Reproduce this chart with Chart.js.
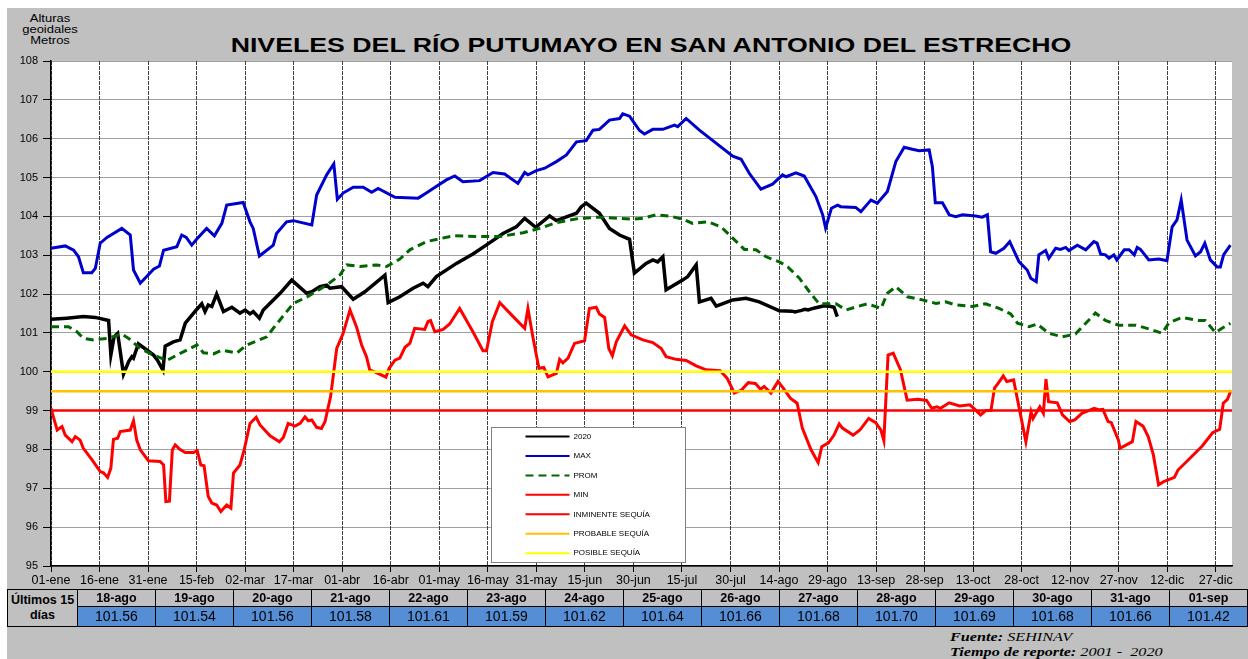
<!DOCTYPE html>
<html lang="es">

<head>
    <meta charset="UTF-8">
    <title>Niveles del río Putumayo en San Antonio del Estrecho</title>
    <script src="https://cdn.jsdelivr.net/npm/chart.js"></script>
    <style>
        body { margin: 0; background: #fff; overflow: hidden; font-family: "Liberation Sans", Arial, sans-serif; }
        #panel { position: absolute; left: 7px; top: 8px; width: 1241px; height: 651px; background: #c0c0c0; }
        #ylab { position: absolute; left: 0; top: 13px; width: 100px; text-align: center; font-size: 10px; line-height: 11px; transform: scaleX(1.3); transform-origin: 50px 0; }
        #title { position: absolute; left: 0; width: 1302px; top: 34px; text-align: center; font-size: 20px; font-weight: bold; line-height: 23px; transform: scaleX(1.335); transform-origin: 651px 0; }
        #wrap { position: absolute; left: 0; top: 0; width: 1248px; height: 600px; }
        #tbl { position: absolute; left: 7px; top: 589px; border-collapse: collapse; table-layout: fixed; }
        #tbl td { border: 1.5px solid #000; text-align: center; padding: 0; overflow: hidden; white-space: nowrap; }
        #tbl .hd { background: #c0c0c0; font-weight: bold; font-size: 12.5px; height: 16px; line-height: 16px; }
        #tbl .val { background: #558ed5; font-size: 14px; height: 19px; line-height: 19px; }
        #tbl .lbl { background: #c0c0c0; font-weight: bold; font-size: 12.5px; line-height: 15px; }
        #foot { position: absolute; left: 950px; top: 630px; font-family: "Liberation Serif", "Times New Roman", serif; font-style: italic; font-size: 12px; line-height: 14.5px; transform: scaleX(1.35); transform-origin: 0 0; white-space: nowrap; }
    </style>
</head>

<body>
    <div id="panel"></div>
    <div id="ylab">Alturas<br>geoidales<br>Metros</div>
    <div id="title">NIVELES DEL RÍO PUTUMAYO EN SAN ANTONIO DEL ESTRECHO</div>
    <div id="wrap"><canvas id="chart"></canvas></div>
    <table id="tbl"><tbody id="tbody"></tbody></table>
    <div id="foot"><b>Fuente:</b> SEHINAV<br><b>Tiempo de reporte:</b> 2001 -&nbsp; 2020</div>

    <script>
        // ejes
        const tickDays = [0, 15, 30, 45, 60, 75, 90, 105, 120, 135, 150, 165, 180, 195, 210, 225, 240, 255, 270, 285, 300, 315, 330, 345, 360];
        const tickLabels = ['01-ene', '16-ene', '31-ene', '15-feb', '02-mar', '17-mar', '01-abr', '16-abr', '01-may', '16-may', '31-may', '15-jun', '30-jun', '15-jul', '30-jul', '14-ago', '29-ago', '13-sep', '28-sep', '13-oct', '28-oct', '12-nov', '27-nov', '12-dic', '27-dic'];

        // umbrales
        const inminente = 99.0;
        const probable = 99.5;
        const posible = 100.0;

        // 2020 (día del año, nivel)
        const days2020 = [0, 4.9, 10, 13.7, 17.8, 18.5, 19.5, 20.6, 22.4, 24, 25, 25.5, 27, 29.6, 31.7, 32.9, 34.6, 35.3, 37.8, 39.9, 41.5, 45.1, 46.6, 47.6, 48.6, 49.7, 51.2, 53.3, 55.9, 58.4, 60, 61.5, 62.5, 64.4, 65.6, 70.8, 74.4, 79, 80.6, 83.1, 85.2, 86.2, 89.8, 93.4, 97, 103.2, 104.2, 107.8, 111.9, 115, 116.5, 119.1, 125.3, 130.4, 134.5, 139.7, 143.8, 146.4, 149.8, 154.1, 156.2, 159.3, 162.4, 163.9, 165.4, 169.5, 172.6, 175.7, 178.8, 180.3, 183.9, 186, 187.5, 189.1, 190.1, 195.2, 196.8, 199.4, 200.4, 204, 205.6, 210.7, 214.8, 218.9, 225.1,
            229, 230, 231, 232, 233, 234, 235, 236, 237, 238, 239, 240, 241, 242, 243];
        const vals2020 = [101.35, 101.38, 101.42, 101.4, 101.32, 100.43, 100.9, 100.99, 99.94, 100.26, 100.39, 100.35, 100.72, 100.56, 100.43, 100.3, 100.04, 100.66, 100.77, 100.82, 101.25, 101.61, 101.75, 101.55, 101.72, 101.68, 102.0, 101.55, 101.66, 101.51, 101.59, 101.49, 101.55, 101.38, 101.59, 102.02, 102.36, 102.02, 102.06, 102.19, 102.23, 102.15, 102.19, 101.87, 102.06, 102.49, 101.78, 101.93, 102.15, 102.28, 102.19, 102.45, 102.79, 103.03, 103.26, 103.56, 103.73, 103.95, 103.72, 104.01, 103.89, 103.99, 104.08, 104.25, 104.34, 104.08, 103.69, 103.52, 103.41, 102.54, 102.79, 102.88, 102.83, 102.96, 102.11, 102.36, 102.45, 102.75, 101.8, 101.89, 101.69, 101.85, 101.89, 101.8, 101.57,
            101.56, 101.54, 101.56, 101.58, 101.61, 101.59, 101.62, 101.64, 101.66, 101.68, 101.70, 101.69, 101.68, 101.66, 101.42];

        // MAX
        const daysMax = [0, 4.4, 7, 8.5, 10, 12.6, 13.7, 15.2, 17.3, 21.9, 24.5, 25.5, 27.6, 31.7, 33.5, 34.8, 38.9, 40.4, 41.8, 43.5, 45, 48.1, 50.5, 52.8, 54.3, 59.4, 61.5, 62.5, 64.4, 68.7, 69.7, 72.8, 74.9, 80.6, 82.1, 85.2, 87.4, 88.5, 90.3, 93.4, 96.5, 99.1, 101.1, 106.3, 113.5, 116, 118.1, 122.2, 124.8, 127.3, 132.5, 136.6, 140.2, 144.3, 146.4, 147.4, 150, 152.6, 156.2, 159.3, 162.4, 165.4, 167.5, 169.5, 172.6, 175.7, 176.7, 178.8, 180.3, 181.9, 183.4, 186, 189.1, 192.7, 193.7, 196.3, 200.4, 210.7, 213.3, 215.8, 219.4, 223, 226.1, 227.2, 230.2, 232.8, 236.4, 238.5, 239.4, 241.2, 243.1, 244.1, 248.7, 250.3, 253.4, 255.4, 258.5, 261.1, 263.7, 266.2, 268.3, 271.4, 272.4, 273.3, 275.5, 277.6, 279.6, 281.7, 285.8, 287.8, 289.4, 290.4, 292, 294.5, 296.3, 299.2, 301.7, 302.8, 304.5, 305.3, 307.4, 308.4, 310.5, 312, 313.6, 314.6, 317.2, 319.8, 322.3, 323.3, 324.4, 325.9, 327, 328.5, 329.4, 331.7, 333.2, 334.8, 335.7, 336.7, 339.3, 342.4, 344.9, 346.5, 348, 349.3, 351.1, 353.7, 355.3, 356.6, 358.3, 360.4, 361.4, 362.4, 364.5];
        const valsMax = [103.18, 103.24, 103.13, 102.96, 102.55, 102.55, 102.66, 103.31, 103.46, 103.69, 103.52, 102.62, 102.28, 102.64, 102.72, 103.13, 103.22, 103.52, 103.46, 103.26, 103.41, 103.69, 103.5, 103.82, 104.29, 104.36, 103.86, 103.69, 102.98, 103.26, 103.56, 103.86, 103.89, 103.78, 104.55, 105.07, 105.35, 104.44, 104.6, 104.75, 104.75, 104.62, 104.72, 104.49, 104.47, 104.6, 104.72, 104.94, 105.04, 104.89, 104.92, 105.13, 105.09, 104.85, 105.13, 105.07, 105.18, 105.24, 105.41, 105.58, 105.92, 105.95, 106.22, 106.24, 106.48, 106.52, 106.64, 106.58, 106.4, 106.21, 106.12, 106.24, 106.24, 106.35, 106.31, 106.52, 106.22, 105.55, 105.47, 105.11, 104.7, 104.83, 105.07, 105.02, 105.12, 105.04, 104.51, 104.04, 103.7, 104.21, 104.29, 104.25, 104.23, 104.12, 104.42, 104.34, 104.64, 105.41, 105.78, 105.73, 105.69, 105.71, 105.28, 104.35, 104.35, 104.04, 103.99, 104.04, 104.01, 103.98, 104.04, 103.09, 103.05, 103.18, 103.35, 102.83, 102.62, 102.41, 102.32, 103.01, 103.12, 102.92, 103.18, 103.15, 103.2, 103.12, 103.26, 103.14, 103.35, 103.31, 103.03, 103.01, 102.92, 103.01, 102.88, 103.14, 103.14, 103.01, 103.2, 103.15, 102.88, 102.9, 102.86, 103.73, 103.91, 104.42, 103.39, 102.98, 103.09, 103.31, 102.88, 102.7, 102.7, 103.01, 103.26];

        // PROM
        const daysProm = [0, 5.4, 8, 10, 13.1, 17.3, 21.9, 24, 27.6, 31.7, 35.8, 38.9, 45.1, 47.1, 50.2, 52.8, 57.4, 60.5, 66.7, 68.7, 74.9, 79, 85.2, 89.3, 91.4, 95.5, 100.6, 103.7, 107.8, 110.9, 116, 124.3, 132.5, 138.7, 145.9, 151, 156.2, 163.4, 169.5, 179.8, 182.9, 187, 191.1, 195.2, 198.3, 203, 207.1, 210.7, 214.3, 217.9, 221, 225.1, 227.7, 231.3, 234.4, 237.4, 242.6, 245.7, 249.3, 252.4, 256.5, 258.5, 261.1, 264.7, 269.3, 273.5, 276.5, 279.6, 284.8, 288.9, 293, 296.6, 298.7, 302.3, 304.8, 308.4, 312.5, 316.6, 319.8, 322.8, 325.9, 330, 335.2, 340.3, 343.4, 345.5, 349.6, 354.7, 356.7, 359.9, 361.9, 364.5];
        const valsProm = [101.16, 101.16, 101.03, 100.86, 100.82, 100.86, 100.97, 100.86, 100.6, 100.43, 100.29, 100.43, 100.69, 100.49, 100.46, 100.56, 100.48, 100.69, 100.9, 101.12, 101.76, 101.92, 102.23, 102.49, 102.75, 102.71, 102.75, 102.71, 102.9, 103.14, 103.35, 103.5, 103.48, 103.48, 103.58, 103.69, 103.84, 103.95, 103.98, 103.93, 103.95, 104.04, 104.01, 103.93, 103.82, 103.86, 103.73, 103.44, 103.15, 103.14, 102.96, 102.83, 102.7, 102.41, 102.06, 101.75, 101.75, 101.59, 101.68, 101.75, 101.63, 102.02, 102.19, 101.93, 101.85, 101.76, 101.8, 101.72, 101.68, 101.75, 101.63, 101.49, 101.25, 101.16, 101.23, 100.99, 100.9, 100.97, 101.25, 101.51, 101.32, 101.2, 101.2, 101.08, 100.99, 101.26, 101.4, 101.32, 101.32, 101.01, 101.12, 101.25];

        // MIN
        const daysMin = [0, 1.9, 3.4, 4.4, 6.5, 7.5, 9, 10, 12.7, 15.2, 16.2, 17.5, 18.5, 19.3, 20.6, 21.4, 24.5, 25.5, 26.5, 27.6, 30.1, 33.7, 34.8, 35.5, 36.6, 37.5, 38.4, 39.9, 41.5, 44, 45.2, 46.3, 47.3, 48.6, 49.7, 51.2, 52.5, 54.3, 55.6, 56.4, 58.4, 59.7, 61.5, 63.4, 64.6, 67.7, 70.6, 71.8, 73.3, 75.4, 77, 78.5, 79.5, 80.6, 82.1, 83.6, 84.7, 86.4, 87.2, 88.3, 90.3, 92.4, 94.4, 96, 97.5, 98.5, 100.6, 103.5, 104.5, 106.3, 107.8, 109.4, 110.9, 112.4, 115.5, 116.5, 117.3, 118.6, 121.2, 123.2, 126.3, 130.4, 133.5, 134.6, 136.4, 138.7, 143.3, 146.4, 147.4, 149, 150.8, 152.3, 153.6, 156.2, 157.2, 158.2, 159.8, 161.8, 164.9, 166.4, 168.5, 169.5, 171.1, 172.4, 173.5, 174.7, 177.3, 179.3, 182.9, 186, 188.6, 190.1, 193.2, 196.3, 199.4, 202.5, 206.8, 209, 211.2, 213.4, 215.5, 217.7, 219.3, 220.4, 222.5, 224.7, 226.3, 228.5, 230.6, 232.2, 234.9, 237.1, 238.2, 240.3, 242, 243.6, 244.6, 247.9, 250, 252.7, 254.9, 256.5, 257.4, 258.7, 260.3, 262.5, 264.6, 267.9, 270.6, 272.2, 273.8, 274.9, 277.6, 280.8, 284, 285.7, 287.3, 288.9, 290.5, 291.6, 292.7, 294.3, 295.4, 297.5, 301.3, 302.9, 303.5, 305.6, 306.7, 307.5, 308.3, 311, 312.6, 314.8, 316.4, 318.6, 320.7, 322.4, 324, 325.1, 326.7, 327.7, 329.9, 330.4, 334.2, 335.3, 337.5, 339.1, 340.7, 342.3, 343.9, 347.2, 348.3, 351, 355.8, 359, 361.2, 362.3, 363.6, 364.7];
        const valsMin = [99.06, 98.5, 98.59, 98.37, 98.2, 98.33, 98.24, 98.03, 97.73, 97.43, 97.4, 97.28, 97.52, 98.26, 98.29, 98.46, 98.5, 98.74, 98.24, 97.99, 97.71, 97.69, 97.6, 96.66, 96.67, 97.99, 98.12, 98.0, 97.92, 97.92, 97.97, 97.6, 97.58, 96.79, 96.62, 96.57, 96.4, 96.57, 96.49, 97.39, 97.6, 97.99, 98.67, 98.83, 98.63, 98.35, 98.2, 98.31, 98.67, 98.6, 98.67, 98.84, 98.74, 98.76, 98.57, 98.54, 98.72, 99.36, 99.87, 100.6, 100.99, 101.59, 101.16, 100.69, 100.39, 100.05, 99.98, 99.86, 100.09, 100.3, 100.35, 100.63, 100.73, 101.12, 101.09, 101.29, 101.32, 101.03, 101.09, 101.23, 101.63, 101.03, 100.54, 100.54, 101.29, 101.78, 101.38, 101.12, 101.63, 100.86, 100.09, 100.11, 99.87, 99.96, 100.32, 100.23, 100.35, 100.73, 100.8, 101.63, 101.66, 101.49, 101.4, 100.6, 100.41, 100.77, 101.18, 100.95, 100.82, 100.75, 100.6, 100.39, 100.32, 100.29, 100.15, 100.05, 100.03, 99.83, 99.45, 99.53, 99.72, 99.7, 99.55, 99.62, 99.45, 99.75, 99.58, 99.32, 99.19, 98.55, 97.99, 97.66, 98.07, 98.17, 98.37, 98.66, 98.55, 98.37, 98.5, 98.8, 98.69, 98.5, 98.23, 100.43, 100.48, 100.06, 99.27, 99.29, 99.26, 99.06, 99.1, 99.06, 99.2, 99.12, 99.15, 99.02, 98.89, 99.0, 99.0, 99.58, 99.7, 99.89, 99.75, 99.79, 98.2, 98.97, 98.8, 99.1, 98.93, 99.81, 99.23, 99.2, 98.89, 98.72, 98.76, 98.93, 99.0, 99.06, 99.02, 99.03, 98.72, 98.69, 98.24, 98.03, 98.2, 98.72, 98.6, 98.33, 97.86, 97.09, 97.17, 97.28, 97.47, 97.69, 98.09, 98.43, 98.52, 99.19, 99.29, 99.53];

        // tabla últimos 15 días
        const lastDates = ['18-ago', '19-ago', '20-ago', '21-ago', '22-ago', '23-ago', '24-ago', '25-ago', '26-ago', '27-ago', '28-ago', '29-ago', '30-ago', '31-ago', '01-sep'];
        const lastVals = [101.56, 101.54, 101.56, 101.58, 101.61, 101.59, 101.62, 101.64, 101.66, 101.68, 101.70, 101.69, 101.68, 101.66, 101.42];

        const DAY_MIN = 0, DAY_MAX = 365;

        function pts(days, vals) {
            return days.map((d, i) => ({ x: d, y: vals[i] }));
        }
        function flat(v) {
            return [{ x: DAY_MIN, y: v }, { x: DAY_MAX, y: v }];
        }

        const datasets = [
            { label: 'POSIBLE SEQUÍA', data: flat(posible), borderColor: '#ffff00', borderWidth: 2.5 },
            { label: 'PROBABLE SEQUÍA', data: flat(probable), borderColor: '#ffc000', borderWidth: 2.5 },
            { label: 'INMINENTE SEQUÍA', data: flat(inminente), borderColor: '#ff0000', borderWidth: 2.5 },
            { label: 'MIN', data: pts(daysMin, valsMin), borderColor: '#ff0000', borderWidth: 3 },
            { label: 'PROM', data: pts(daysProm, valsProm), borderColor: '#006600', borderWidth: 3, borderDash: [8, 5] },
            { label: 'MAX', data: pts(daysMax, valsMax), borderColor: '#0000cc', borderWidth: 3 },
            { label: '2020', data: pts(days2020, vals2020), borderColor: '#000000', borderWidth: 3.5 }
        ];
        datasets.forEach(ds => {
            ds.pointRadius = 0;
            ds.tension = 0;
            ds.fill = false;
        });

        // fondo blanco del área de trazado
        const plotBg = {
            id: 'plotBg',
            beforeDraw(chart) {
                const a = chart.chartArea, ctx = chart.ctx;
                ctx.save();
                ctx.fillStyle = '#ffffff';
                ctx.fillRect(a.left, a.top, a.right - a.left, a.bottom - a.top);
                ctx.restore();
            }
        };

        // leyenda en cuadro dentro del gráfico
        const boxLegend = {
            id: 'boxLegend',
            afterDatasetsDraw(chart) {
                const ctx = chart.ctx;
                const order = ['2020', 'MAX', 'PROM', 'MIN', 'INMINENTE SEQUÍA', 'PROBABLE SEQUÍA', 'POSIBLE SEQUÍA'];
                const x0 = 491.5, y0 = 427.5, w = 194, h = 135;
                ctx.save();
                ctx.fillStyle = '#ffffff';
                ctx.fillRect(x0, y0, w, h);
                ctx.strokeStyle = '#808080';
                ctx.lineWidth = 1;
                ctx.strokeRect(x0, y0, w, h);
                ctx.font = '8px "Liberation Sans", Arial, sans-serif';
                ctx.textBaseline = 'middle';
                order.forEach((name, i) => {
                    const ds = chart.data.datasets.find(d => d.label === name);
                    const y = 436.5 + i * 19.45;
                    ctx.strokeStyle = ds.borderColor;
                    ctx.lineWidth = 2;
                    ctx.setLineDash(ds.borderDash || []);
                    ctx.beginPath();
                    ctx.moveTo(525.5, y);
                    ctx.lineTo(569.5, y);
                    ctx.stroke();
                    ctx.setLineDash([]);
                    ctx.fillStyle = '#000';
                    ctx.fillText(name, 573.5, y);
                });
                ctx.restore();
            }
        };

        new Chart(document.getElementById('chart'), {
            type: 'line',
            data: { datasets: datasets },
            options: {
                responsive: true,
                maintainAspectRatio: false,
                animation: false,
                layout: { padding: { top: 61, right: 16, left: 0, bottom: 0 } },
                plugins: { legend: { display: false }, tooltip: { enabled: false } },
                scales: {
                    x: {
                        type: 'linear',
                        min: DAY_MIN,
                        max: DAY_MAX,
                        afterBuildTicks: s => { s.ticks = tickDays.map(v => ({ value: v })); },
                        afterFit: s => { s.height = 34; },
                        ticks: {
                            callback: v => tickLabels[tickDays.indexOf(v)],
                            font: { family: '"Liberation Sans", Arial, sans-serif', size: 12.5 },
                            color: '#000',
                            padding: 1,
                            maxRotation: 0,
                            autoSkip: false
                        },
                        grid: { color: '#404040', lineWidth: 1, tickLength: 6, tickColor: '#000' },
                        border: { color: '#000', width: 1.5, dash: [4, 1] }
                    },
                    y: {
                        min: 95,
                        max: 108,
                        afterFit: s => { s.width = 51; },
                        ticks: {
                            stepSize: 1,
                            font: { family: '"Liberation Sans", Arial, sans-serif', size: 11 },
                            color: '#000',
                            padding: 5
                        },
                        grid: { color: '#404040', lineWidth: 1, tickLength: 8, tickColor: '#000' },
                        border: { color: '#000', width: 1.5, dash: [1, 1] }
                    }
                }
            },
            plugins: [plotBg, boxLegend]
        });

        // tabla
        const tbody = document.getElementById('tbody');
        let r1 = '<tr><td class="lbl" rowspan="2" style="width:69px">Últimos 15<br>días</td>';
        let r2 = '<tr>';
        lastDates.forEach((d, i) => {
            r1 += `<td class="hd" style="width:77px">${d}</td>`;
            r2 += `<td class="val">${lastVals[i].toFixed(2)}</td>`;
        });
        tbody.innerHTML = r1 + '</tr>' + r2 + '</tr>';
    </script>
</body>

</html>
